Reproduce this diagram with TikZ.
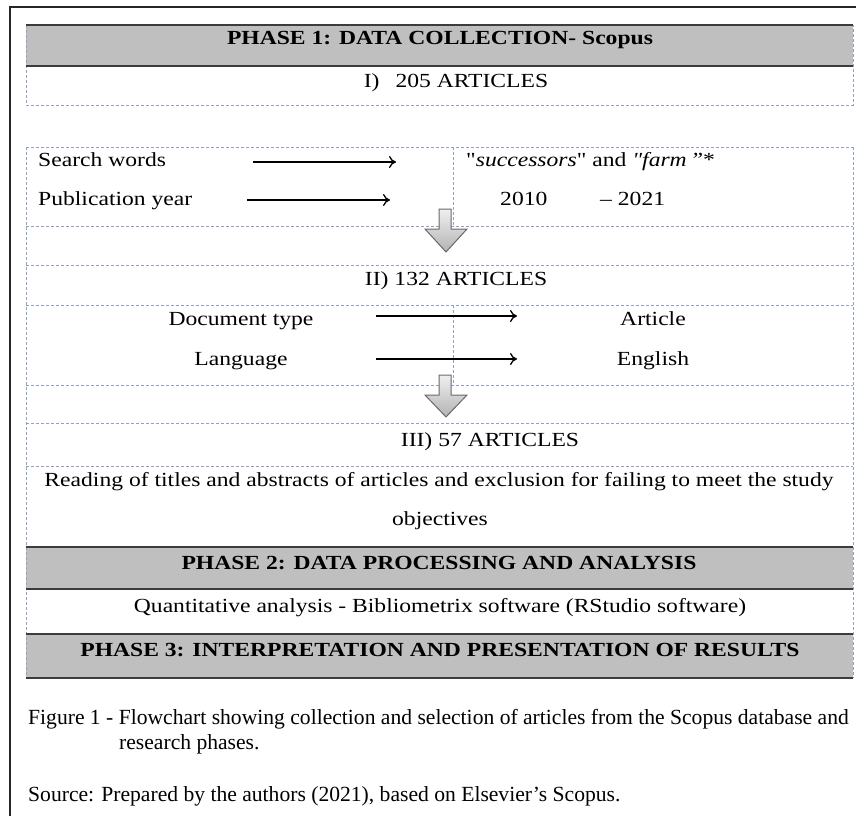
\documentclass[tikz,border=0pt]{standalone}
\usepackage{fontspec}
\setmainfont{Liberation Serif}[FakeStretch=1.18]
\newfontfamily\qfont{Liberation Serif}[FakeStretch=1.18,Ligatures=TeXOff]
\newfontfamily\capfont{Liberation Serif}
\usetikzlibrary{arrows.meta}
\definecolor{hdrgray}{HTML}{BFBFBF}
\definecolor{dashblue}{HTML}{8EA2C0}
\definecolor{darkline}{HTML}{3C3C3C}
\definecolor{arrowedge}{HTML}{6A6A6A}
\begin{document}
\begin{tikzpicture}[x=1pt,y=-1pt,
  txt/.style={anchor=base,inner sep=0pt,font=\fontsize{20}{24}\selectfont},
  hdr/.style={anchor=base,inner sep=0pt,font=\fontsize{20}{24}\selectfont\bfseries},
  captxt/.style={anchor=base west,inner sep=0pt,font=\capfont\fontsize{21.6}{26}\selectfont},
  dl/.style={draw=dashblue,line width=0.8pt,dash pattern=on 3pt off 2pt},
  sl/.style={draw=darkline,line width=1.6pt},
  conn/.style={line width=1.3pt,-{To[length=7pt,width=12pt]}},
  blockarrow/.style={draw=arrowedge,line width=1pt,top color=gray!12,bottom color=gray!60}
]
\useasboundingbox (0,0) rectangle (856,816);
% outer frame
\draw[line width=1.5pt,black!85] (10,816) -- (10,7) -- (856,7);

% ---- table 1
\fill[hdrgray] (26,25) rectangle (853,66);
\draw[dl] (26,25) rectangle (853,105);
\draw[sl] (26,25) -- (853,25);
\draw[sl] (26,66) -- (853,66);

% ---- table 2
\fill[hdrgray] (26,547) rectangle (853,589);
\fill[hdrgray] (26,634) rectangle (853,678);
\foreach \yy in {147,226,265,305,385,423,466} \draw[dl] (26,\yy) -- (853,\yy);
\draw[dl] (26,147) -- (26,678);
\draw[dl] (853,147) -- (853,678);
\draw[dl] (453,147) -- (453,226);
\draw[dl] (453,305) -- (453,385);
\foreach \yy in {547,589,634,678} \draw[sl] (26,\yy) -- (853,\yy);

% ---- texts
\node[hdr] (h1) at (440,45) {PHASE 1: DATA COLLECTION- Scopus};
\node[txt] (r1) at (456,87) {I)\hspace{0.8em}205 ARTICLES};

\node[txt,anchor=base west] (sw) at (38,166) {Search words};
\node[txt,anchor=base west] (py) at (38,205) {Publication year};
\node[txt,anchor=base west] (swv) at (466,166) {{\qfont"}\textit{successors}{\qfont"} and \textit{{\qfont"}farm\,”}*};
\node[txt,anchor=base west] (pyv1) at (500,205) {2010};
\node[txt,anchor=base west] (pyv2) at (600,205) {– 2021};

\node[txt] (r2) at (456,285) {II)\hspace{0.3em}132 ARTICLES};
\node[txt] (dt) at (241,325) {Document type};
\node[txt] (lg) at (241,365) {Language};
\node[txt] (dtv) at (653,325) {Article};
\node[txt] (lgv) at (653,365) {English};

\node[txt] (r3) at (490,446) {III) 57 ARTICLES};
\node[txt] (rd1) at (439,486) {Reading of titles and abstracts of articles and exclusion for failing to meet the study};
\node[txt] (rd2) at (440,525) {objectives};

\node[hdr] (h2) at (439,569) {PHASE 2: DATA PROCESSING AND ANALYSIS};
\node[txt] (qa) at (440,612) {Quantitative analysis - Bibliometrix software (RStudio software)};
\node[hdr] (h3) at (440,656) {PHASE 3: INTERPRETATION AND PRESENTATION OF RESULTS};

\node[captxt] (cap1) at (28,724) {Figure 1 - Flowchart showing collection and selection of articles from the Scopus database and};
\node[captxt] (cap2) at (119,749) {research phases.};
\node[captxt] (src) at (28,801) {Source: Prepared by the authors (2021), based on Elsevier’s Scopus.};

% ---- line arrows
\coordinate (a1s) at (253,162); \coordinate (a1e) at (396,162);
\coordinate (a2s) at (247,200); \coordinate (a2e) at (390,200);
\coordinate (a3s) at (376,316); \coordinate (a3e) at (517,316);
\coordinate (a4s) at (376,359); \coordinate (a4e) at (517,359);
\draw[conn] (a1s) -- (a1e);
\draw[conn] (a2s) -- (a2e);
\draw[conn] (a3s) -- (a3e);
\draw[conn] (a4s) -- (a4e);

% ---- block arrows
\draw[blockarrow] (439,209) -- (451,209) -- (451,229) -- (467,229) -- (446,252) -- (425,229) -- (439,229) -- cycle;
\draw[blockarrow] (439,375) -- (451,375) -- (451,395) -- (467,395) -- (446,417) -- (425,395) -- (439,395) -- cycle;
\end{tikzpicture}
\end{document}
